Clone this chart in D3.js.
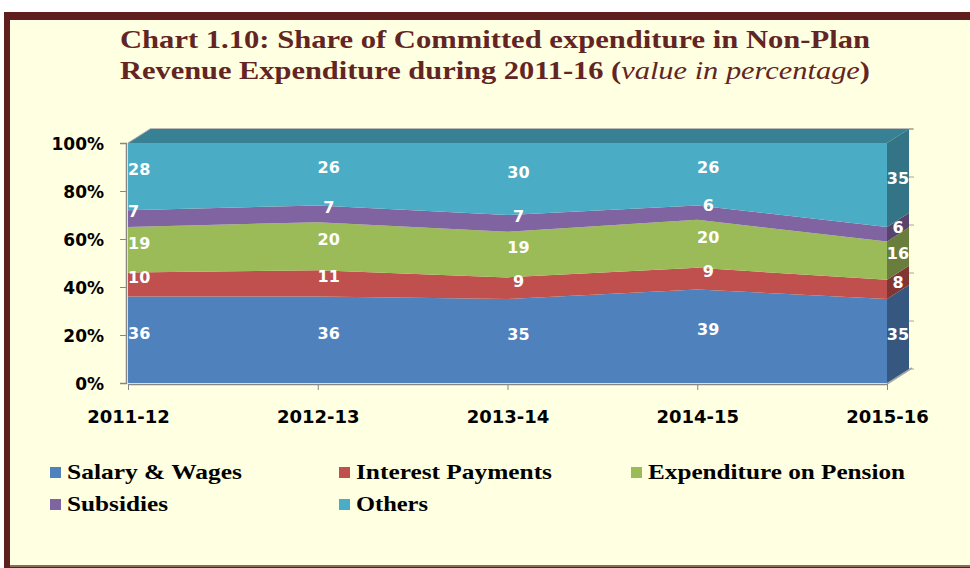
<!DOCTYPE html>
<html>
<head>
<meta charset="utf-8">
<script src="https://cdn.jsdelivr.net/npm/d3@7"></script>
<style>
  html, body { margin: 0; padding: 0; background: #fff; }
  .axis text { font-family: 'DejaVu Sans', Verdana, sans-serif; font-weight: bold; fill: #000; }
  .axis line, .axis path { stroke: #868686; }
</style>
</head>
<body>
<div id="chart"></div>
<script>
const categories = ["2011-12", "2012-13", "2013-14", "2014-15", "2015-16"];
const seriesNames = ["Salary & Wages", "Interest Payments", "Expenditure on Pension", "Subsidies", "Others"];
const salary = [36, 36, 35, 39, 35];
const interest = [10, 11, 9, 9, 8];
const pension = [19, 20, 19, 20, 16];
const subsidies = [7, 7, 7, 6, 6];
const others = [28, 26, 30, 26, 35];
const yTicks = [0, 20, 40, 60, 80, 100];
const colors = ["#4F81BD", "#C0504D", "#9BBB59", "#8064A2", "#4BACC6"];

const width = 970, height = 568;
const plot = { left: 128, right: 887, top: 143, bottom: 383 };
const depth = { dx: 22, dy: -14 };

const svg = d3.select("#chart").append("svg")
  .attr("width", width).attr("height", height);

// frame
svg.append("rect").attr("x", 4).attr("y", 12).attr("width", 980).attr("height", 556).attr("fill", "#5F1F1F");
svg.append("rect").attr("x", 10).attr("y", 20).attr("width", 970).attr("height", 545).attr("fill", "#FFFFE1");
svg.append("line").attr("x1", 10).attr("x2", 970).attr("y1", 566).attr("y2", 566)
  .attr("stroke", "#8A6A5A").attr("stroke-width", 2);

// title
const title = svg.append("g").attr("fill", "#632523")
  .style("font-family", "'Liberation Serif', 'Times New Roman', serif").style("font-weight", "bold").style("font-size", "26px");
title.append("text").attr("x", 120).attr("y", 48).attr("textLength", 750).attr("lengthAdjust", "spacingAndGlyphs")
  .text("Chart 1.10: Share of Committed expenditure in  Non-Plan");
const t2 = title.append("text").attr("x", 120).attr("y", 79).attr("textLength", 750).attr("lengthAdjust", "spacingAndGlyphs");
t2.append("tspan").text("Revenue Expenditure during 2011-16 (");
t2.append("tspan").style("font-style", "italic").style("font-weight", "normal").text("value in percentage");
t2.append("tspan").text(")");

const table = categories.map((c, i) => ({
  cat: c,
  "Salary & Wages": salary[i],
  "Interest Payments": interest[i],
  "Expenditure on Pension": pension[i],
  "Subsidies": subsidies[i],
  "Others": others[i]
}));
const stacked = d3.stack().keys(seriesNames)(table);

const x = d3.scalePoint().domain(categories).range([plot.left, plot.right]);
const y = d3.scaleLinear().domain([0, 100]).range([plot.bottom, plot.top]);

// back wall edges and right-side ticks
const g = svg.append("g");
g.append("line").attr("x1", plot.left + depth.dx).attr("x2", plot.right + depth.dx + 4)
  .attr("y1", y(100) + depth.dy).attr("y2", y(100) + depth.dy).attr("stroke", "#A6A6A6").attr("stroke-width", 1.5);
g.selectAll(".rtick").data(yTicks).join("line")
  .attr("x1", plot.right + depth.dx).attr("x2", plot.right + depth.dx + 5)
  .attr("y1", d => y(d) + depth.dy).attr("y2", d => y(d) + depth.dy)
  .attr("stroke", "#A6A6A6");
// floor edge
g.append("line").attr("x1", plot.right).attr("y1", y(0) + 1)
  .attr("x2", plot.right + depth.dx + 3).attr("y2", y(0) + depth.dy - 1).attr("stroke", "#A6A6A6").attr("stroke-width", 1.5);

// top face of top series
const topSeries = stacked[stacked.length - 1];
const topPts = topSeries.map((d, i) => [x(categories[i]), y(d[1])]);
const topPoly = topPts.concat(topPts.slice().reverse().map(p => [p[0] + depth.dx, p[1] + depth.dy]));
g.append("path").attr("d", d3.line()(topPoly) + "Z")
  .attr("fill", d3.color(colors[4]).darker(0.8));

// right side faces
stacked.forEach((s, k) => {
  const last = s[s.length - 1];
  const xl = x(categories[categories.length - 1]);
  const y0 = y(last[0]), y1 = y(last[1]);
  const poly = [[xl, y1], [xl + depth.dx, y1 + depth.dy], [xl + depth.dx, y0 + depth.dy], [xl, y0]];
  g.append("path").attr("d", d3.line()(poly) + "Z").attr("fill", d3.color(colors[k]).darker(1.1));
});

// front faces
const area = d3.area()
  .x((d, i) => x(categories[i]))
  .y0(d => y(d[0]))
  .y1(d => y(d[1]));
g.selectAll(".layer").data(stacked).join("path")
  .attr("class", "layer")
  .attr("d", area)
  .attr("fill", (d, k) => colors[k]);

// left top edge
g.append("line").attr("x1", plot.left).attr("y1", y(100))
  .attr("x2", plot.left + depth.dx).attr("y2", y(100) + depth.dy).attr("stroke", "#A6A6A6");

// axes
const yAxis = svg.append("g").attr("class", "axis")
  .attr("transform", `translate(${plot.left - 2},0)`)
  .call(d3.axisLeft(y).tickValues(yTicks).tickFormat(d => d + "%").tickSize(6).tickPadding(16));
yAxis.selectAll("text").style("font-size", "17px").attr("dy", "0.36em");
yAxis.select(".domain").attr("stroke-width", 1.5);

const xAxis = svg.append("g").attr("class", "axis")
  .attr("transform", `translate(0,${plot.bottom + 1})`)
  .call(d3.axisBottom(x).tickSize(6).tickPadding(20).tickSizeOuter(0));
xAxis.selectAll("text").style("font-size", "18px");
xAxis.select(".domain").attr("stroke-width", 1.5);

// data labels at mid depth
const labels = [];
stacked.forEach(s => s.forEach((d, i) => {
  labels.push({ x: x(categories[i]) + depth.dx / 2, y: y((d[0] + d[1]) / 2) + depth.dy / 2, v: d.data[s.key], i });
}));
svg.append("g").selectAll("text").data(labels).join("text")
  .attr("x", d => d.i === 0 ? plot.left : d.x)
  .attr("y", d => d.y)
  .attr("dy", "0.36em")
  .attr("text-anchor", d => d.i === 0 ? "start" : "middle")
  .attr("fill", "#fff")
  .style("font-family", "'DejaVu Sans', Verdana, sans-serif")
  .style("font-weight", "bold")
  .style("font-size", "16px")
  .text(d => d.v);

// legend
const legendPos = [[50, 472], [339, 472], [631, 472], [50, 504], [339, 504]];
const legendWidths = [175, 196, 257, 101, 72];
const legend = svg.append("g").selectAll("g").data(seriesNames).join("g")
  .attr("transform", (d, i) => `translate(${legendPos[i][0]},${legendPos[i][1]})`);
legend.append("rect").attr("x", 0).attr("y", -5).attr("width", 11).attr("height", 11)
  .attr("fill", (d, i) => colors[i]);
legend.append("text").attr("x", 17).attr("y", 7)
  .attr("textLength", (d, i) => legendWidths[i]).attr("lengthAdjust", "spacingAndGlyphs")
  .style("font-family", "'Liberation Serif', 'Times New Roman', serif")
  .style("font-weight", "bold").style("font-size", "21px").attr("fill", "#000")
  .text(d => d);
</script>
</body>
</html>
